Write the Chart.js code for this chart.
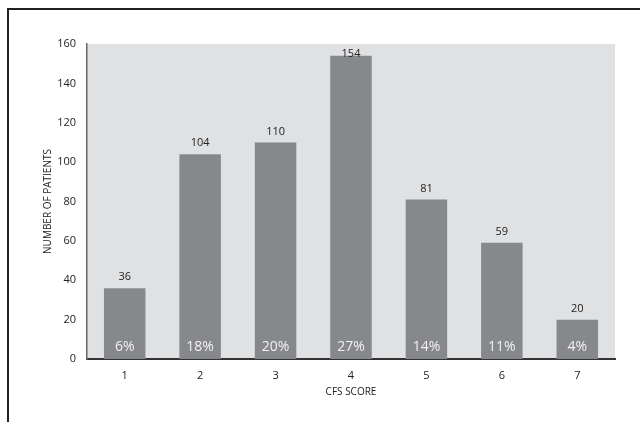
<!DOCTYPE html>
<html>
<head>
<meta charset="utf-8">
<script src="https://cdn.jsdelivr.net/npm/chart.js@4.4.1/dist/chart.umd.min.js"></script>
<style>
    body { margin: 0; background: #fff; }
    #wrap { position: relative; width: 644px; height: 422px; }
    #frame { position: absolute; left: 7px; top: 8px; right: 4px; bottom: -4px;
             border-left: 2px solid #222; border-top: 2px solid #222; }
    canvas { position: absolute; left: 0; top: 0; }
</style>
</head>
<body>
<div id="wrap">
    <div id="frame"></div>
    <canvas id="cfs-chart" width="644" height="422"></canvas>
</div>
<script>
var scores = ['1', '2', '3', '4', '5', '6', '7'];
var patients = [36, 104, 110, 154, 81, 59, 20];
var percents = ['6%', '18%', '20%', '27%', '14%', '11%', '4%'];
var yTicks = [0, 20, 40, 60, 80, 100, 120, 140, 160];

var fontFamily = "'Open Sans', 'Noto Sans', sans-serif";

// grey plot area behind the bars
var plotBackground = {
    id: 'plotBackground',
    beforeDraw: function(chart) {
        var area = chart.chartArea;
        var ctx = chart.ctx;
        ctx.save();
        ctx.fillStyle = '#e0e1e3';
        ctx.fillRect(area.left, area.top, area.right - area.left, area.bottom - area.top);
        ctx.restore();
    }
};

// value above each bar and share of patients at the foot of it
var barLabels = {
    id: 'barLabels',
    afterDatasetsDraw: function(chart) {
        var ctx = chart.ctx;
        var meta = chart.getDatasetMeta(0);
        var area = chart.chartArea;
        ctx.save();
        ctx.textAlign = 'center';
        ctx.textBaseline = 'middle';
        meta.data.forEach(function(bar, i) {
            ctx.fillStyle = '#222';
            ctx.font = '11px ' + fontFamily;
            var y = Math.max(bar.y - 11, area.top + 10);
            ctx.fillText(patients[i], bar.x, y);
            ctx.fillStyle = '#f2f2f2';
            ctx.font = '14px ' + fontFamily;
            ctx.fillText(percents[i], bar.x, area.bottom - 12);
        });
        ctx.restore();
    }
};

var chart = new Chart(document.getElementById('cfs-chart'), {
    type: 'bar',
    data: {
        labels: scores,
        datasets: [{
            data: patients,
            backgroundColor: '#87888c',
            categoryPercentage: 1,
            barPercentage: 0.55
        }]
    },
    options: {
        responsive: false,
        animation: false,
        layout: { padding: { left: 0, top: 44, right: 29, bottom: 0 } },
        plugins: {
            legend: { display: false },
            tooltip: { enabled: false }
        },
        scales: {
            x: {
                grid: { display: false, drawTicks: false },
                border: { display: true, color: '#333', width: 2 },
                ticks: { color: '#222', padding: 10, font: { family: fontFamily, size: 11 } },
                title: {
                    display: true,
                    text: 'CFS SCORE',
                    color: '#222',
                    font: { family: fontFamily, size: 10 },
                    padding: { top: 0, bottom: 24 }
                },
                afterFit: function(scale) { scale.height = 63; }
            },
            y: {
                min: 0,
                max: 160,
                afterBuildTicks: function(scale) {
                    scale.ticks = yTicks.map(function(v) { return { value: v }; });
                },
                grid: { display: false, drawTicks: false },
                border: { display: true, color: '#666', width: 1.5 },
                ticks: { color: '#222', padding: 11, font: { family: fontFamily, size: 11 } },
                title: {
                    display: true,
                    text: 'NUMBER OF PATIENTS',
                    color: '#222',
                    font: { family: fontFamily, size: 10 },
                    padding: { top: 42, bottom: 0 }
                },
                afterFit: function(scale) { scale.width = 87; }
            }
        }
    },
    plugins: [plotBackground, barLabels]
});
</script>
</body>
</html>
